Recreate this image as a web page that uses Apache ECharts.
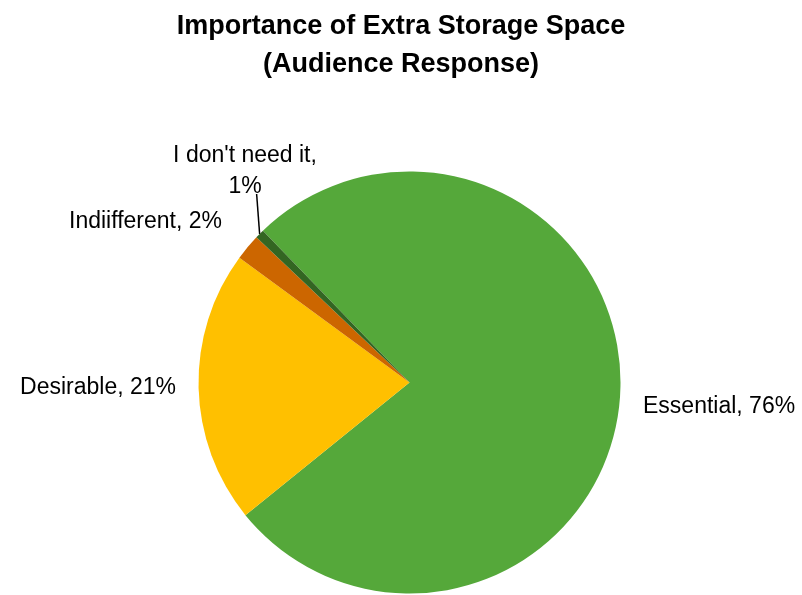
<!DOCTYPE html>
<html><head><meta charset="utf-8">
<script src="https://cdn.jsdelivr.net/npm/echarts@6/dist/echarts.min.js"></script>
<style>html,body{margin:0;padding:0;background:#fff;}#c{width:802px;height:595px;}</style>
</head><body><div id="c"></div>
<script>
const titleLines = ['Importance of Extra Storage Space', '(Audience Response)'];
const categories = ['Essential', 'Desirable', 'Indiifferent', "I don't need it"];
const values = [76.4, 20.9, 2.0, 0.7];
const colors = ['#55A83A', '#FFC000', '#CC6600', '#336622'];
const labelTexts = ['Essential, 76%', 'Desirable, 21%', 'Indiifferent, 2%', "I don't need it,\n1%"];
const labelPos = [[643, 407, 'left'], [176, 388, 'right'], [222, 222, 'right'], [245, 171, 'center']];

const chart = echarts.init(document.getElementById('c'), null, {renderer: 'canvas'});
chart.setOption({
  backgroundColor: '#fff',
  animation: false,
  title: {
    text: titleLines.join('\n'),
    left: 'center', top: 3,
    textStyle: {fontFamily: 'Liberation Sans', fontWeight: 'bold', fontSize: 27, lineHeight: 38, color: '#000'}
  },
  series: [{
    type: 'pie',
    center: [409.5, 382.5],
    radius: 211,
    startAngle: 134,
    clockwise: true,
    data: categories.map((c, i) => ({
      name: c, value: values[i],
      itemStyle: {color: colors[i]},
      label: {formatter: labelTexts[i]},
      labelLine: {show: i === 3, length: 12, length2: 0, lineStyle: {color: '#000', width: 1.5}}
    })),
    itemStyle: {borderWidth: 0},
    label: {show: true, position: 'outside', fontFamily: 'Liberation Sans', fontSize: 23, color: '#000', lineHeight: 31, align: 'center'},
    labelLayout: function (p) {
      const lp = labelPos[p.dataIndex];
      const out = {x: lp[0], y: lp[1], align: lp[2], verticalAlign: 'middle'};
      if (p.dataIndex === 3 && p.labelLinePoints) {
        const s = p.labelLinePoints[0];
        out.labelLinePoints = [[s[0], s[1]], [s[0] - 3, 194], [s[0] - 3, 194]];
      }
      return out;
    }
  }]
});
</script></body></html>
